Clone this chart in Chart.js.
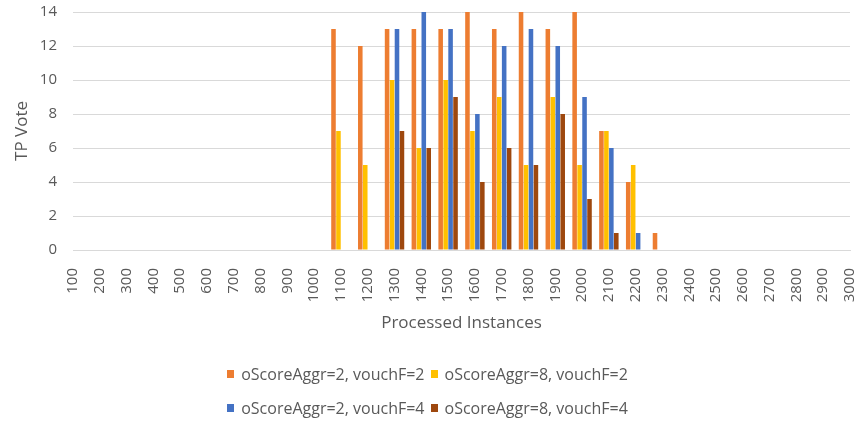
<!DOCTYPE html>
<html>
<head>
<meta charset="utf-8">
<script src="https://cdn.jsdelivr.net/npm/chart.js@4.4.1/dist/chart.umd.min.js"></script>
<style>
  html, body { margin: 0; padding: 0; background: #fff; }
  #wrap { position: relative; width: 855px; height: 421px; }
  #legend {
    position: absolute; left: 0; top: 357px; width: 855px;
    font-family: "Open Sans", sans-serif; font-size: 16px; color: #595959;
  }
  .row { display: flex; justify-content: center; height: 34px; align-items: center; padding-left: 6px; }
  .item { display: flex; align-items: center; margin-right: 6px; white-space: nowrap; }
  .sw { width: 7px; height: 8px; margin-right: 7px; display: inline-block; }
</style>
</head>
<body>
<div id="wrap">
  <canvas id="c" width="855" height="421"></canvas>
  <div id="legend"></div>
</div>
<script>
// Category axis: processed instances, 100 .. 3000
const categories = [100, 200, 300, 400, 500, 600, 700, 800, 900, 1000,
  1100, 1200, 1300, 1400, 1500, 1600, 1700, 1800, 1900, 2000,
  2100, 2200, 2300, 2400, 2500, 2600, 2700, 2800, 2900, 3000].map(String);

const seriesNames = [
  'oScoreAggr=2, vouchF=2',
  'oScoreAggr=8, vouchF=2',
  'oScoreAggr=2, vouchF=4',
  'oScoreAggr=8, vouchF=4'
];

// TP votes per category (100 .. 3000)
const agg2vouch2 = [0,0,0,0,0,0,0,0,0,0, 13,12,13,13,13,14,13,14,13,14, 7,4,1,0,0,0,0,0,0,0];
const agg8vouch2 = [0,0,0,0,0,0,0,0,0,0, 7,5,10,6,10,7,9,5,9,5, 7,5,0,0,0,0,0,0,0,0];
const agg2vouch4 = [0,0,0,0,0,0,0,0,0,0, 0,0,13,14,13,8,12,13,12,9, 6,1,0,0,0,0,0,0,0,0];
const agg8vouch4 = [0,0,0,0,0,0,0,0,0,0, 0,0,7,6,9,4,6,5,8,3, 1,0,0,0,0,0,0,0,0,0];

const yTicks = [0, 2, 4, 6, 8, 10, 12, 14];

const colors = ['#ED7D31', '#FFC000', '#4472C4', '#9E480E'];
const values = [agg2vouch2, agg8vouch2, agg2vouch4, agg8vouch4];

const textColor = '#595959';
const gridColor = '#d9d9d9';
const fontFamily = '"Open Sans", sans-serif';

const chart = new Chart(document.getElementById('c'), {
  type: 'bar',
  data: {
    labels: categories,
    datasets: values.map((v, i) => ({
      label: seriesNames[i],
      data: v,
      backgroundColor: colors[i],
      borderWidth: 0,
      barPercentage: 0.92,
      categoryPercentage: 0.74
    }))
  },
  options: {
    responsive: false,
    animation: false,
    layout: { padding: { left: 0, right: 5, top: 12, bottom: 88 } },
    plugins: {
      legend: { display: false },
      tooltip: { enabled: false }
    },
    scales: {
      x: {
        offset: false,
        grid: { display: false },
        border: { color: gridColor },
        ticks: {
          color: textColor, font: { family: fontFamily, size: 15 },
          minRotation: 90, maxRotation: 90, autoSkip: false, padding: 10
        },
        title: {
          display: true, text: 'Processed Instances', color: textColor,
          font: { family: fontFamily, size: 17 }, padding: { top: 6, bottom: 0 }
        },
        afterFit: s => { s.height = 83; s.paddingLeft = 0; s.paddingRight = 0; }
      },
      y: {
        min: 0, max: 14,
        afterBuildTicks: s => { s.ticks = yTicks.map(v => ({ value: v })); },
        grid: { color: gridColor, drawTicks: false },
        border: { display: false },
        ticks: { color: textColor, font: { family: fontFamily, size: 15 }, padding: 16 },
        title: {
          display: true, text: 'TP Vote', color: textColor,
          font: { family: fontFamily, size: 17 }, padding: { top: 12, bottom: 4 }
        },
        afterFit: s => { s.width = 73; s.paddingTop = 0; s.paddingBottom = 0; }
      }
    }
  }
});

// Legend: two items per row, centred
const legend = document.getElementById('legend');
[[0, 1], [2, 3]].forEach(pair => {
  const row = document.createElement('div');
  row.className = 'row';
  pair.forEach(i => {
    const item = document.createElement('span');
    item.className = 'item';
    const sw = document.createElement('span');
    sw.className = 'sw';
    sw.style.background = colors[i];
    item.appendChild(sw);
    item.appendChild(document.createTextNode(seriesNames[i]));
    row.appendChild(item);
  });
  legend.appendChild(row);
});
</script>
</body>
</html>
